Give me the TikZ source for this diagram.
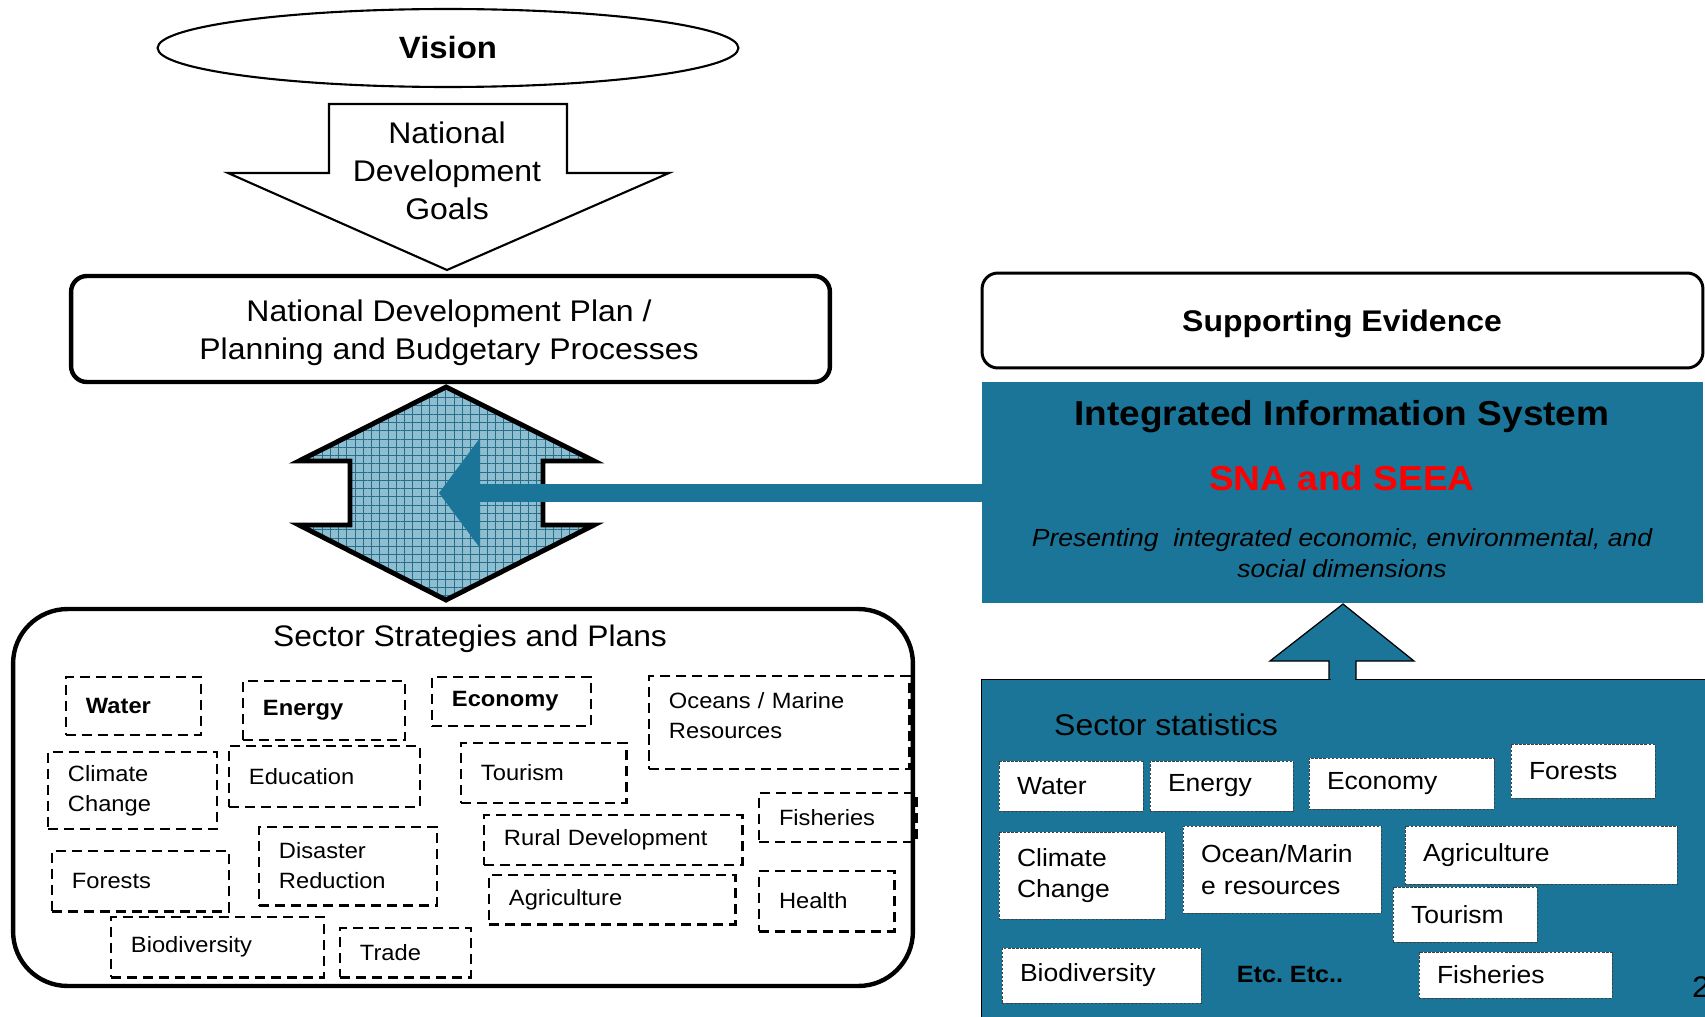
\documentclass[tikz,border=0pt]{standalone}
\usepackage{fontspec}
\setmainfont{Liberation Sans}[FakeStretch=1.07]
\usetikzlibrary{shapes.geometric,patterns.meta}

\definecolor{seablue}{RGB}{27,117,152}
\definecolor{gridfill}{RGB}{142,190,207}
\definecolor{gridline}{RGB}{38,110,140}
\newcommand{\fsz}[2]{\fontsize{#1}{#2}\selectfont}

\tikzset{
  roundbox/.style={draw, rounded corners=9pt, align=center, inner sep=0pt},
  secbox/.style={draw, line width=1.7pt, dash pattern=on 5.7pt off 3.4pt, align=left,
    inner xsep=0.4cm, inner ysep=1pt, font=\fsz{12.6}{17}},
  statbox/.style={draw=black!75, fill=white, line width=0.5pt, dash pattern=on 1.4pt off 0.9pt,
    align=left, inner xsep=0.36cm, inner ysep=1pt, font=\fsz{14.1}{18}},
}

\begin{document}
\begin{tikzpicture}[x=0.02cm, y=-0.02cm]
    \useasboundingbox (0,0) rectangle (1705,1017);

    % Vision and goals %
    \node[draw, ellipse, line width=1.2pt, minimum width=11.62cm, minimum height=1.56cm, font=\fsz{17.5}{21}\bfseries] (vision) at (448,48) {Vision};
    \draw[line width=1.2pt, line join=miter] (329,104) -- (567,104) -- (567,173) -- (669,173) -- (447,270) -- (228,173) -- (329,173) -- cycle;
    \node[align=center, font=\fsz{17}{21.8}] (goals) at (447,171) {National\\Development\\Goals};

    % Plan %
    \node[roundbox, line width=2.5pt, minimum width=15.18cm, minimum height=2.12cm] (plan) at (450.5,329) {};
    \node[align=center, font=\fsz{17}{21.5}] (plantext) at (449,333) {National Development Plan /\\Planning and Budgetary Processes};

    % Double arrow %
    \draw[line width=2.8pt, line join=miter, preaction={fill=gridfill}, pattern={Hatch[angle=0, distance=4.7pt, line width=0.5pt]}, pattern color=gridline]
        (446,387) -- (594,461) -- (543,461) -- (543,525) -- (594,525) -- (446,600) -- (299,525) -- (350,525) -- (350,461) -- (299,461) -- cycle;

    % Sector strategies %
    \node[draw, line width=2.5pt, rounded corners=31pt, minimum width=18cm, minimum height=7.54cm] (sectors) at (463,797.5) {};
    \node[font=\fsz{16.9}{20}] (sectitle) at (470,639) {Sector Strategies and Plans};
    \foreach \n/\xa/\ya/\xb/\yb/\txt in {
        water/66/677/201/735/{\bfseries Water},
        energy/243/681/405/740/{\bfseries Energy},
        economy/432/677/591/726/{\bfseries Economy},
        oceans/649/676/909/769/{Oceans / Marine\\Resources\\[-9pt]\mbox{}},
        climate/48/752/217/829/{Climate\\Change},
        education/229/746/420/807/{Education},
        tourism/461/743/626/803/{Tourism},
        fisheries/759/793/916/842/{Fisheries},
        rural/484/815/742/865/{Rural Development},
        forests/52/851/229/911/{Forests},
        disaster/259/827/437/905/{Disaster\\Reduction},
        agriculture/489/875/735/924/{Agriculture},
        health/759/871/894/931/{Health},
        biodiversity/111/917/324/977/{Biodiversity},
        trade/340/928/471/977/{Trade}}
    {
        \pgfmathsetmacro\bw{(\xb-\xa)*0.02}
        \pgfmathsetmacro\bh{(\yb-\ya)*0.02}
        \pgfmathsetmacro\tw{\bw-0.8}
        \node[secbox, minimum width=\bw cm, minimum height=\bh cm, text width=\tw cm] (s-\n) at ({(\xa+\xb)/2},{(\ya+\yb)/2}) {\txt};
    }

    % Evidence side %
    \node[roundbox, line width=1.7pt, minimum width=14.42cm, minimum height=1.9cm] (evidence) at (1342.5,320.5) {};
    \node[font=\fsz{17}{21}\bfseries] (evtext) at (1342,324) {Supporting Evidence};
    \node[fill=seablue, minimum width=14.42cm, minimum height=4.42cm, inner sep=0pt] (iis) at (1342.5,492.5) {};
    \node[font=\fsz{19.7}{24}\bfseries] (iistitle) at (1342,417) {Integrated Information System};
    \node[font=\fsz{19.7}{24}\bfseries, text=red] (sna) at (1342,478) {SNA and SEEA};
    \node[align=center, font=\fsz{14.1}{17.6}\itshape] (present) at (1342,553) {Presenting\ \ integrated economic, environmental, and\\social dimensions};

    % Blue arrow into the plan %
    \coordinate (tip) at (439,493);
    \draw[seablue, line width=10pt] (iis.west |- tip) -- (480,493);
    \fill[seablue] (tip) -- (480,438) -- (480,548) -- cycle;

    % Sector statistics %
    \node[draw, fill=seablue, line width=0.7pt, anchor=north west, minimum width=14.9cm, minimum height=7.2cm, inner sep=0pt] (stats) at (981,679) {};
    \filldraw[fill=seablue, line width=0.7pt, line join=miter] (1329,679) -- (1329,661) -- (1270,661) -- (1343,604) -- (1414,661) -- (1356,661) -- (1356,679);
    \fill[seablue] (1330.5,676) rectangle (1354.5,683);
    \node[anchor=west, font=\fsz{17}{21}] (stattitle) at (1048,725) {Sector statistics};
    \foreach \n/\xa/\ya/\xb/\yb/\txt in {
        water/999/761/1143/811/{Water},
        energy/1150/761/1293/811/{Energy},
        economy/1309/758/1494/809/{Economy},
        forests/1511/744/1655/798/{Forests},
        climate/999/832/1165/919/{Climate\\Change},
        ocean/1183/826/1381/913/{Ocean/Marin\\e resources},
        agriculture/1405/826/1677/884/{Agriculture},
        tourism/1393/887/1537/942/{Tourism},
        biodiversity/1002/948/1201/1003/{Biodiversity},
        fisheries/1419/952/1612/998/{Fisheries}}
    {
        \pgfmathsetmacro\bw{(\xb-\xa)*0.02}
        \pgfmathsetmacro\bh{(\yb-\ya)*0.02}
        \pgfmathsetmacro\tw{\bw-0.72}
        \node[statbox, minimum width=\bw cm, minimum height=\bh cm, text width=\tw cm] (r-\n) at ({(\xa+\xb)/2},{(\ya+\yb)/2}) {\txt};
    }
    \node[font=\fsz{13.4}{18}\bfseries] (etc) at (1290,975) {Etc.\ Etc..};
    \node[anchor=west, font=\fsz{17}{20}] (page) at (1686,987) {2};
\end{tikzpicture}
\end{document}
